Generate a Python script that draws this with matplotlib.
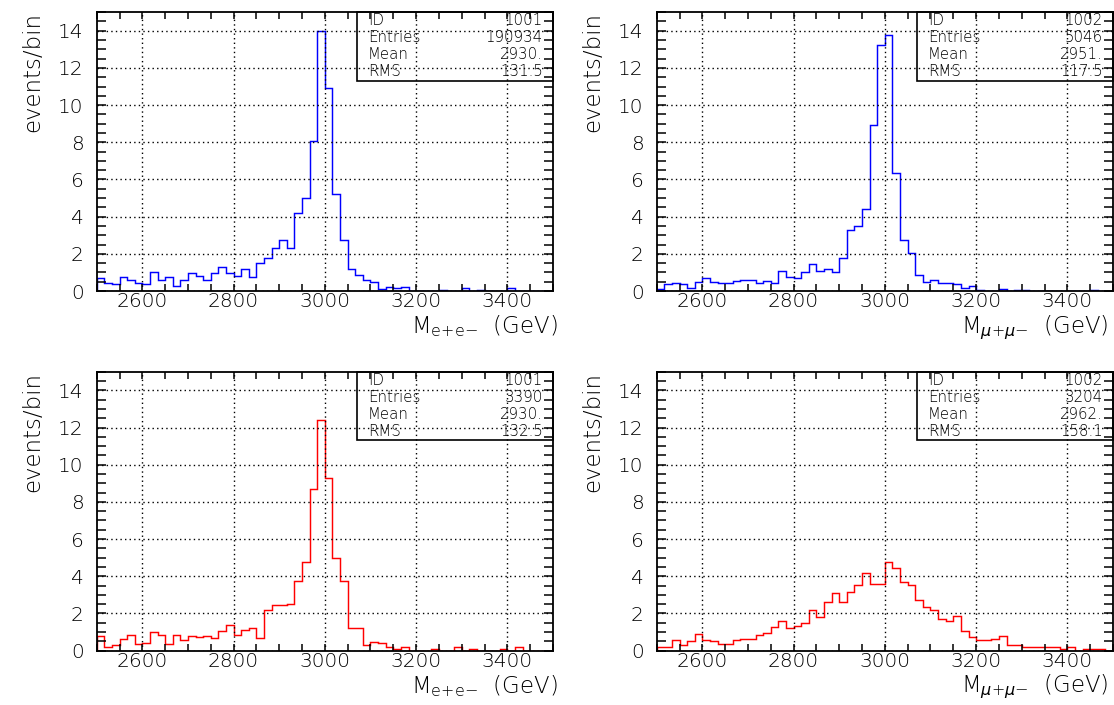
import numpy as np
import matplotlib
matplotlib.use("Agg")
import matplotlib.pyplot as plt
from matplotlib.patches import Rectangle
from matplotlib.ticker import MultipleLocator

plt.rcParams['font.family'] = ['DejaVu Sans']
plt.rcParams['mathtext.fontset'] = 'custom'
plt.rcParams['mathtext.rm'] = 'DejaVu Sans:light'
plt.rcParams['mathtext.it'] = 'DejaVu Sans:italic:light'
plt.rcParams['mathtext.sf'] = 'DejaVu Sans:light'

# ---- data ----
x_min, x_max, n_bins = 2500, 3500, 60

ee_top = [0.68, 0.41, 0.36, 0.75, 0.59, 0.41, 0.36, 1.00, 0.59, 0.73,
          0.27, 0.59, 0.95, 0.82, 0.59, 0.96, 1.27, 0.98, 0.80, 1.16,
          0.75, 1.48, 1.80, 2.29, 2.77, 2.29, 4.21, 5.02, 8.06, 13.98,
          10.90, 5.22, 2.77, 1.16, 0.875, 0.59, 0.48, 0.09, 0.20, 0.16,
          0.20, 0, 0, 0, 0, 0.05, 0, 0, 0.14, 0,
          0.05, 0, 0, 0, 0.14, 0, 0, 0, 0, 0]

mm_top = [0.09, 0.36, 0.41, 0.36, 0.14, 0.48, 0.68, 0.48, 0.41, 0.41,
          0.55, 0.59, 0.59, 0.41, 0.55, 0.41, 1.07, 0.73, 0.68, 1.00,
          1.43, 1.07, 1.16, 1.00, 1.80, 3.30, 3.52, 4.39, 8.94, 13.23,
          13.75, 6.36, 2.72, 2.04, 0.875, 0.48, 0.59, 0.41, 0.41, 0.38,
          0.16, 0.27, 0.05, 0, 0, 0.12, 0, 0.05, 0.05, 0,
          0, 0, 0, 0, 0, 0, 0, 0.05, 0, 0]

ee_bot = [0.78, 0.21, 0.30, 0.62, 0.82, 0.35, 0.42, 1.02, 0.82, 0.35,
          0.82, 0.57, 0.77, 0.71, 0.77, 0.70, 1.03, 1.37, 0.82, 1.11,
          1.20, 0.70, 2.20, 2.47, 2.47, 2.50, 3.74, 4.78, 8.71, 12.42,
          9.30, 4.96, 3.74, 1.23, 1.23, 0.28, 0.48, 0.42, 0.21, 0.10,
          0.17, 0, 0, 0, 0.07, 0, 0, 0.17, 0, 0.10,
          0, 0, 0, 0.10, 0, 0.17, 0, 0, 0, 0]

mm_bot = [0.21, 0.21, 0.57, 0.30, 0.52, 0.91, 0.57, 0.52, 0.35, 0.35,
          0.57, 0.64, 0.64, 0.82, 0.96, 1.28, 1.59, 1.23, 1.34, 1.50,
          2.18, 1.79, 2.59, 3.08, 2.59, 3.13, 3.51, 4.15, 3.61, 3.61,
          4.78, 4.42, 3.68, 3.52, 2.72, 2.36, 2.18, 1.68, 1.57, 1.86,
          1.03, 0.71, 0.57, 0.57, 0.64, 0.77, 0.28, 0.28, 0.17, 0.17,
          0.17, 0.17, 0.17, 0.07, 0.17, 0, 0.10, 0.10, 0.10, 0]

stat_ids = ["1001", "1002", "1001", "1002"]
stat_entries = ["190934", "5046", "3390", "3204"]
stat_means = ["2930.", "2951.", "2930.", "2962."]
stat_rms = ["131.5", "117.5", "132.5", "158.1"]

x_labels = [r"M$_{\mathrm{e{+}e{-}}}$  (GeV)", r"M$_{\mu{+}\mu{-}}$  (GeV)",
            r"M$_{\mathrm{e{+}e{-}}}$  (GeV)", r"M$_{\mu{+}\mu{-}}$  (GeV)"]
series = [ee_top, mm_top, ee_bot, mm_bot]
colors = ["#0000ff", "#0000ff", "#ff0000", "#ff0000"]

# ---- figure ----
W, H = 1114, 705
fig = plt.figure(figsize=(W / 100, H / 100), dpi=100)

ax_w = 456.3 / W
ax_h = 278.8 / H
lefts = [96.7 / W, 656.7 / W]
bottoms = [1 - 291.0 / H, 1 - 650.6 / H]
positions = [(lefts[0], bottoms[0]), (lefts[1], bottoms[0]),
             (lefts[0], bottoms[1]), (lefts[1], bottoms[1])]
xlabel_x = [1.011, 0.989, 1.011, 0.989]

edges = np.linspace(x_min, x_max, n_bins + 1)
WEIGHT = 'light'

for i in range(4):
    ax = fig.add_axes([positions[i][0], positions[i][1], ax_w, ax_h])
    ax.stairs(series[i], edges, color=colors[i], lw=1.05, baseline=0)
    ax.set_xlim(x_min, x_max)
    ax.set_ylim(0, 15)
    ax.xaxis.set_major_locator(MultipleLocator(200))
    ax.xaxis.set_minor_locator(MultipleLocator(50))
    ax.yaxis.set_major_locator(MultipleLocator(2))
    ax.yaxis.set_minor_locator(MultipleLocator(0.5))
    ax.set_xticks([2600, 2800, 3000, 3200, 3400])
    ax.grid(True, which='major', color='black', linestyle=(0, (1, 2.3)), lw=1.0)
    for s in ax.spines.values():
        s.set_linewidth(1.3)
    ax.tick_params(axis='x', which='both', direction='in', top=True, bottom=True,
                   length=5, width=1.1, labelsize=14.5, pad=1)
    ax.tick_params(axis='y', which='both', direction='in', left=True, right=True,
                   length=6.8, width=1.1, labelsize=14.5, pad=9.5)
    for lab in ax.get_xticklabels() + ax.get_yticklabels():
        lab.set_fontweight(WEIGHT)

    ax.set_ylabel("events/bin", fontsize=16.5, loc='top', fontweight=WEIGHT)
    ax.yaxis.set_label_coords(-0.114, 1.0)
    ax.set_xlabel(x_labels[i], fontsize=16.5, loc='right', fontweight=WEIGHT)
    ax.xaxis.set_label_coords(xlabel_x[i], -0.080)

    # stats box
    ax.add_patch(Rectangle((0.570, 0.7546), 0.43, 0.2454, transform=ax.transAxes,
                           fill=False, edgecolor='black', lw=1.2, clip_on=False))
    names = ["ID", "Entries", "Mean", "RMS"]
    vals = [stat_ids[i], stat_entries[i], stat_means[i], stat_rms[i]]
    ys = [0.969, 0.909, 0.847, 0.787]
    for nm, vv, yy in zip(names, vals, ys):
        ax.text(0.594, yy, nm, transform=ax.transAxes, ha='left', va='center',
                fontsize=10.8, fontweight=WEIGHT)
        ax.text(0.978, yy, vv, transform=ax.transAxes, ha='right', va='center',
                fontsize=10.8, fontweight=WEIGHT)

fig.savefig("out.png", dpi=100)
